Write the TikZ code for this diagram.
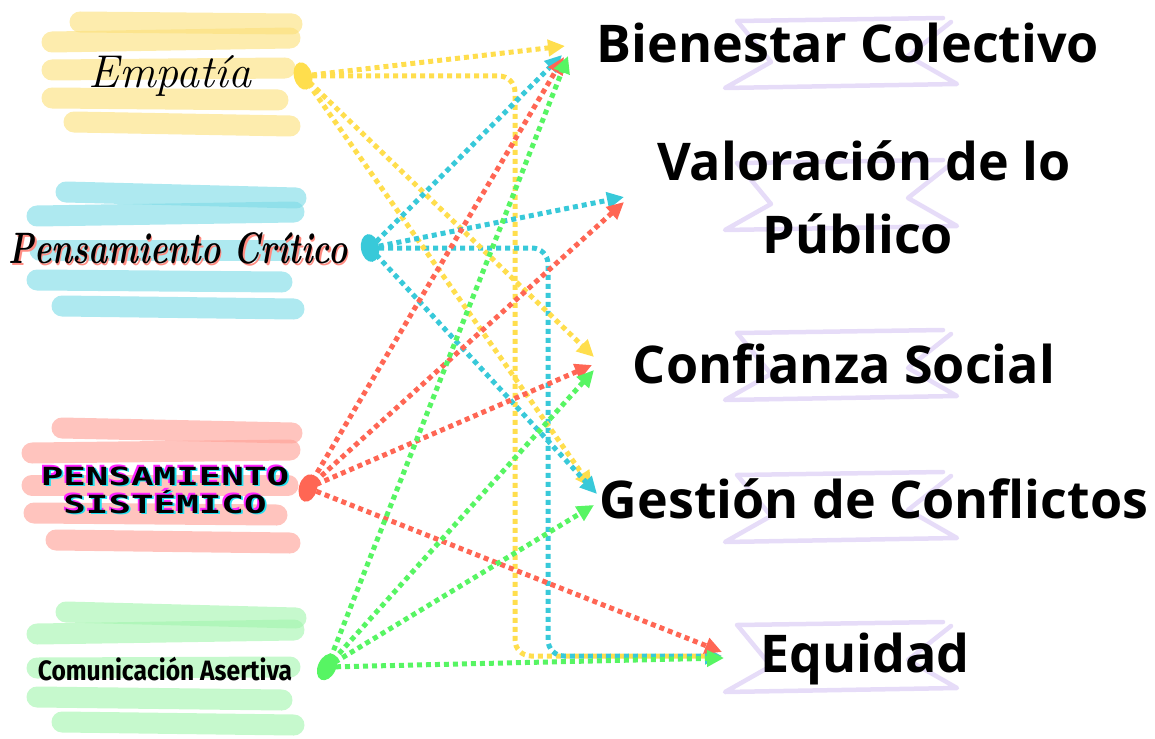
\documentclass[tikz,border=0pt]{standalone}
\usepackage{fontspec}
\usetikzlibrary{arrows.meta,shapes.geometric}
\newfontfamily\osans{Open Sans}
\newfontfamily\monof{DejaVu Sans Mono}
\newfontfamily\firaf{Fira Sans}
\definecolor{cYel}{HTML}{FFDE4D}
\definecolor{cCya}{HTML}{38C9D9}
\definecolor{cRed}{HTML}{FF6654}
\definecolor{cGrn}{HTML}{57F563}
\definecolor{bYel}{HTML}{FBE07A}
\definecolor{bCya}{HTML}{7DDBE6}
\definecolor{bRed}{HTML}{FFA096}
\definecolor{bGrn}{HTML}{A3F5AE}
\definecolor{bPur}{HTML}{E6DCF8}
\definecolor{shRed}{HTML}{FF8C82}
\definecolor{shMag}{HTML}{FF22FF}
\definecolor{shCya}{HTML}{22E0F0}
\tikzset{
  brush/.style={line width=21pt, line cap=round, opacity=0.62},
  conn/.style={line width=5pt, dash pattern=on 5pt off 4pt, rounded corners=16pt,
     -{Triangle[length=17pt,width=16pt]}},
  blob/.style={ellipse, minimum width=18pt, minimum height=28pt, inner sep=0pt, draw=none},
  bannerline/.style={draw=bPur, line width=4.5pt, line cap=round, line join=round},
  rlabel/.style={font=\osans\bfseries\fontsize{52}{72}\selectfont, anchor=base, inner sep=0pt},
}
\newcommand\bannerat[1]{%
  \draw[bannerline] (737,#1+3) -- (943,#1);
  \draw[bannerline] (738,#1+4) -- (771,#1+44) -- (725,#1+70) -- (957,#1+66) -- (908,#1+38) -- (951,#1+4);
}
\newcommand\redshadow[1]{\rlap{\hspace*{2pt}\raisebox{-2pt}{\color{shRed}#1}}#1}
\newcommand\glitch[1]{\rlap{\hspace*{-1.2pt}\raisebox{1.2pt}{\color{shMag}#1}}\rlap{\hspace*{1.2pt}\raisebox{-1.2pt}{\color{shCya}#1}}#1}
\begin{document}
\begin{tikzpicture}[x=1pt,y=-1pt]
\useasboundingbox (0,0) rectangle (1155,738);
% brush strokes
\draw[brush,bYel] (80,22)--(292,24);
\draw[brush,bYel] (52,42)--(290,38);
\draw[brush,bYel] (52,70)--(285,68);
\draw[brush,bYel] (52,98)--(278,100);
\draw[brush,bYel] (74,122)--(290,126);
\draw[brush,bCya] (66,192)--(296,198);
\draw[brush,bCya] (37,216)--(294,212);
\draw[brush,bCya] (40,250)--(290,250);
\draw[brush,bCya] (37,280)--(282,282);
\draw[brush,bCya] (62,306)--(294,309);
\draw[brush,bRed] (62,428)--(292,433);
\draw[brush,bRed] (32,453)--(290,450);
\draw[brush,bRed] (32,485)--(288,485);
\draw[brush,bRed] (34,513)--(277,515);
\draw[brush,bRed] (56,540)--(290,543);
\draw[brush,bGrn] (66,612)--(296,618);
\draw[brush,bGrn] (37,634)--(294,630);
\draw[brush,bGrn] (37,668)--(290,667);
\draw[brush,bGrn] (37,697)--(282,700);
\draw[brush,bGrn] (62,722)--(294,725);
% banners
\bannerat{18}
\bannerat{160}
\bannerat{330}
\bannerat{472}
\bannerat{622}
% left labels
\node[font=\itshape\fontsize{46}{50}\selectfont, anchor=base, inner sep=0pt] (emp) at (170,88) {Empatía};
\node[font=\bfseries\itshape\fontsize{44}{50}\selectfont, anchor=base, inner sep=0pt] (cri) at (178,263) {\scalebox{0.74}[1]{\redshadow{Pensamiento Crítico}}};
\node[font=\monof\bfseries\fontsize{25}{25}\selectfont, align=center, inner sep=0pt] (sis) at (165,490) {\scalebox{1.5}[1]{\glitch{PENSAMIENTO}}\\[1pt]\scalebox{1.5}[1]{\glitch{SISTÉMICO}}};
\node[font=\firaf\bfseries\fontsize{28}{30}\selectfont, anchor=base, inner sep=0pt] (com) at (165,680) {\scalebox{0.88}[1]{Comunicación Asertiva}};
% right labels
\node[rlabel] (bien) at (848,63) {Bienestar Colectivo};
\node[rlabel] (val) at (864,181) {Valoración de lo};
\node[rlabel] (pub) at (858,253) {Público};
\node[rlabel] (conf) at (844,383) {Confianza Social};
\node[rlabel] (ges) at (874,518) {Gestión de Conflictos};
\node[rlabel] (equ) at (865,672) {Equidad};
% source blobs
\node[blob, fill=cYel, rotate=15] (sE) at (303,76) {};
\node[blob, fill=cCya, rotate=10] (sC) at (370,248) {};
\node[blob, fill=cRed, rotate=-15] (sS) at (308,488) {};
\node[blob, fill=cGrn, rotate=-25] (sA) at (327,667) {};
% target tips
\coordinate (tBy) at (565,46);
\coordinate (tBc) at (562,55);
\coordinate (tBr) at (564,57);
\coordinate (tBg) at (568,56);
\coordinate (tVc) at (624,197);
\coordinate (tVr) at (624,202);
\coordinate (tCy) at (594,357);
\coordinate (tCr) at (592,365);
\coordinate (tCg) at (594,370);
\coordinate (tGy) at (592,488);
\coordinate (tGc) at (597,494);
\coordinate (tGg) at (594,505);
\coordinate (tQy) at (722,656);
\coordinate (tQc) at (722,656);
\coordinate (tQr) at (722,652);
\coordinate (tQg) at (724,658);
\coordinate (yv) at (515,0);
\coordinate (cv) at (548,0);
% connectors
\draw[conn,cYel] (sE.center) -- (tBy);
\draw[conn,cYel] (sE.center) -| (yv |- tQy) -- (tQy);
\draw[conn,cCya] (sC.center) -| (cv |- tQc) -- (tQc);
\draw[conn,cYel] (sE.center) -- (tCy);
\draw[conn,cYel] (sE.center) -- (tGy);
\draw[conn,cCya] (sC.center) -- (tBc);
\draw[conn,cCya] (sC.center) -- (tVc);
\draw[conn,cCya] (sC.center) -- (tGc);
\draw[conn,cRed] (sS.center) -- (tBr);
\draw[conn,cRed] (sS.center) -- (tVr);
\draw[conn,cRed] (sS.center) -- (tCr);
\draw[conn,cRed] (sS.center) -- (tQr);
\draw[conn,cGrn] (sA.center) -- (tBg);
\draw[conn,cGrn] (sA.center) -- (tCg);
\draw[conn,cGrn] (sA.center) -- (tGg);
\draw[conn,cGrn] (sA.center) -- (tQg);
\end{tikzpicture}
\end{document}
